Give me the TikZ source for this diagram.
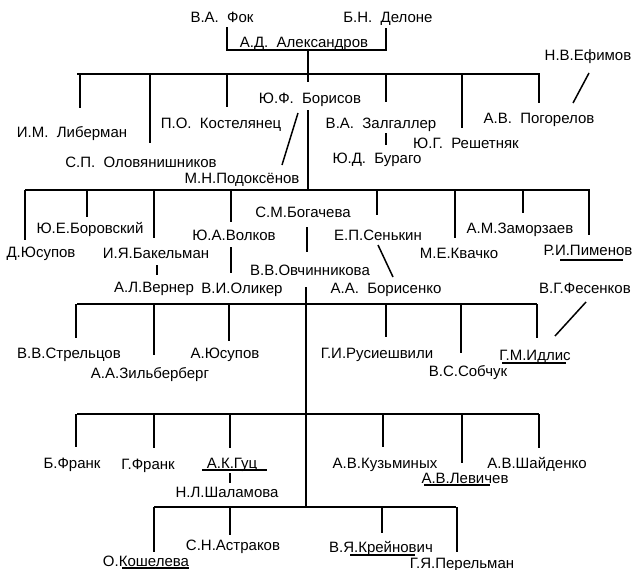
\documentclass[tikz,border=0pt]{standalone}
\usepackage{fontspec}
\setmainfont{Liberation Sans}
\usetikzlibrary{calc}

% stem from a bar down to a name
\newcommand\dropto[4]{%
  \draw let \p1=([xshift=#2pt,yshift=#4pt]#1.base), \p2=(#3) in (\x1,\y2) -- (\p1);}

\begin{document}
\begin{tikzpicture}[x=1pt,y=-1pt,line width=1.5pt,
  pers/.style={anchor=base,inner sep=0pt,font=\fontsize{15}{17}\selectfont},
  ulin/.style={line width=1.2pt}]
 \useasboundingbox (0,0) rectangle (638,570);

 % bars
 \coordinate (brk) at (308,50);
 \coordinate (barA) at (77,74);  \coordinate (barAe) at (540,74);
 \coordinate (barB) at (25,190); \coordinate (barBe) at (590,190);
 \coordinate (barC) at (77,304); \coordinate (barCe) at (537,304);
 \coordinate (barD) at (77,414); \coordinate (barDe) at (539,414);
 \coordinate (barE) at (154,507); \coordinate (barEe) at (456,507);

 % top
 \node[pers] (fok) at (222,22) {В.А.~~Фок};
 \node[pers] (delone) at (388,22) {Б.Н.~~Делоне};
 \node[pers] (aleks) at (304,47) {А.Д.~~Александров};
 \draw ([xshift=5pt,yshift=-5pt]fok.base) |- (brk) -| ([xshift=-2pt,yshift=-6pt]delone.base);

 % students of Aleksandrov
 \node[pers] (libe) at (72,137) {И.М.~~Либерман};
 \node[pers] (olov) at (141,167) {С.П.~~Оловянишников};
 \node[pers] (kost) at (221,128) {П.О.~~Костелянец};
 \node[pers] (bori) at (310,103) {Ю.Ф.~~Борисов};
 \node[pers] (podo) at (242,183) {М.Н.Подоксёнов};
 \node[pers] (zalg) at (381,128) {В.А.~~Залгаллер};
 \node[pers] (bura) at (377,163) {Ю.Д.~~Бураго};
 \node[pers] (resh) at (466,148) {Ю.Г.~~Решетняк};
 \node[pers] (pogo) at (539,123) {А.В.~~Погорелов};
 \node[pers] (efim) at (588,60) {Н.В.Ефимов};
 \draw (barA) -- (barAe);
 \draw (brk) -- ([xshift=-2pt,yshift=21pt]bori.base);
 \dropto{libe}{8}{barA}{29}
 \dropto{olov}{9}{barA}{24}
 \dropto{kost}{6}{barA}{21}
 \dropto{zalg}{5}{barA}{26}
 \dropto{resh}{-4}{barA}{20}
 \dropto{pogo}{0}{barA}{20}
 \draw ([xshift=-12pt,yshift=-10pt]bori.base) -- ([xshift=40pt,yshift=18pt]podo.base);
 \draw ([xshift=5pt,yshift=-5pt]zalg.base) -- ([xshift=9pt,yshift=18pt]bura.base);
 \draw ([xshift=1pt,yshift=-13pt]efim.base) -- ([xshift=34pt,yshift=20pt]pogo.base);

 % students of Borisov
 \node[pers] (dyus) at (41,257) {Д.Юсупов};
 \node[pers] (boro) at (90,233) {Ю.Е.Боровский};
 \node[pers] (bake) at (156,258) {И.Я.Бакельман};
 \node[pers] (vern) at (154,292) {А.Л.Вернер};
 \node[pers] (volk) at (234,240) {Ю.А.Волков};
 \node[pers] (olik) at (242,293) {В.И.Оликер};
 \node[pers] (boga) at (303,217) {С.М.Богачева};
 \node[pers] (ovch) at (310,275) {В.В.Овчинникова};
 \node[pers] (senk) at (378,240) {Е.П.Сенькин};
 \node[pers] (bors) at (386,293) {А.А.~~Борисенко};
 \node[pers] (kvac) at (459,258) {М.Е.Квачко};
 \node[pers] (zamo) at (520,233) {А.М.Заморзаев};
 \node[pers] (pime) at (588,255) {Р.И.Пименов};
 \node[pers] (fese) at (585,293) {В.Г.Фесенков};
 \draw (barB) -- (barBe);
 \draw let \p1=([xshift=-2pt,yshift=-7pt]bori.base), \p2=(barB) in (\p1) -- (\x1,\y2);
 \dropto{dyus}{-16}{barB}{17}
 \dropto{boro}{-3}{barB}{16}
 \dropto{bake}{-2}{barB}{20}
 \dropto{volk}{-3}{barB}{18}
 \dropto{senk}{-1}{barB}{25}
 \dropto{kvac}{-4}{barB}{20}
 \dropto{zamo}{3}{barB}{20}
 \dropto{pime}{1}{barB}{20}
 \draw ([xshift=1pt,yshift=-7pt]bake.base) -- ([xshift=3pt,yshift=17pt]vern.base);
 \draw ([xshift=-3pt,yshift=-7pt]volk.base) -- ([xshift=-11pt,yshift=20pt]olik.base);
 \draw ([xshift=4pt,yshift=-10pt]boga.base) -- ([xshift=-3pt,yshift=23pt]ovch.base);
 \draw ([yshift=-5pt]senk.base) -- ([xshift=7pt,yshift=16pt]bors.base);
 \draw[ulin] ([xshift=-28pt,yshift=-5pt]pime.base) -- ([xshift=35pt,yshift=-5pt]pime.base);

 % students of Ovchinnikova
 \draw let \p1=([xshift=-4pt,yshift=-12pt]ovch.base), \p2=(barE) in (\p1) -- (\x1,\y2);
 \node[pers] (stre) at (69,358) {В.В.Стрельцов};
 \node[pers] (zilb) at (150,378) {А.А.Зильберберг};
 \node[pers] (ayus) at (225,358) {А.Юсупов};
 \node[pers] (rusi) at (377,358) {Г.И.Русиешвили};
 \node[pers] (sobc) at (468,376) {В.С.Собчук};
 \node[pers] (idli) at (535,360) {Г.М.Идлис};
 \draw (barC) -- (barCe);
 \dropto{stre}{7}{barC}{20}
 \dropto{zilb}{4}{barC}{23}
 \dropto{ayus}{4}{barC}{17}
 \dropto{rusi}{9}{barC}{21}
 \dropto{sobc}{-7}{barC}{23}
 \dropto{idli}{2}{barC}{22}
 \draw ([xshift=1pt,yshift=-9pt]fese.base) -- ([xshift=20pt,yshift=24pt]idli.base);
 \draw[ulin] ([xshift=-33pt,yshift=-3pt]idli.base) -- ([xshift=31pt,yshift=-3pt]idli.base);

 \node[pers] (bfra) at (72,468) {Б.Франк};
 \node[pers] (gfra) at (148,469) {Г.Франк};
 \node[pers] (guts) at (232,468) {А.К.Гуц};
 \node[pers] (shal) at (227,497) {Н.Л.Шаламова};
 \node[pers] (kuzm) at (385,468) {А.В.Кузьминых};
 \node[pers] (levi) at (465,483) {А.В.Левичев};
 \node[pers] (shai) at (537,468) {А.В.Шайденко};
 \draw (barD) -- (barDe);
 \dropto{bfra}{4}{barD}{21}
 \dropto{gfra}{6}{barD}{21}
 \dropto{guts}{-2}{barD}{20}
 \dropto{kuzm}{-2}{barD}{21}
 \dropto{levi}{-3}{barD}{20}
 \dropto{shai}{2}{barD}{20}
 \draw ([xshift=-2pt,yshift=-5pt]guts.base) -- ([xshift=3pt,yshift=14pt]shal.base);
 \draw[ulin] ([xshift=-30pt,yshift=-2pt]guts.base) -- ([xshift=35pt,yshift=-2pt]guts.base);
 \draw[ulin] ([xshift=-41pt,yshift=-2pt]levi.base) -- ([xshift=25pt,yshift=-2pt]levi.base);

 \node[pers] (kosh) at (146,566) {О.Кошелева};
 \node[pers] (astr) at (233,550) {С.Н.Астраков};
 \node[pers] (krei) at (381,552) {В.Я.Крейнович};
 \node[pers] (pere) at (462,568) {Г.Я.Перельман};
 \draw (barE) -- (barEe);
 \dropto{kosh}{8}{barE}{14}
 \dropto{astr}{-3}{barE}{15}
 \dropto{krei}{1}{barE}{19}
 \dropto{pere}{-5}{barE}{16}
 \draw[ulin] ([xshift=-24pt,yshift=-2pt]kosh.base) -- ([xshift=43pt,yshift=-2pt]kosh.base);
 \draw[ulin] ([xshift=-31pt,yshift=-3pt]krei.base) -- ([xshift=34pt,yshift=-3pt]krei.base);
\end{tikzpicture}
\end{document}
